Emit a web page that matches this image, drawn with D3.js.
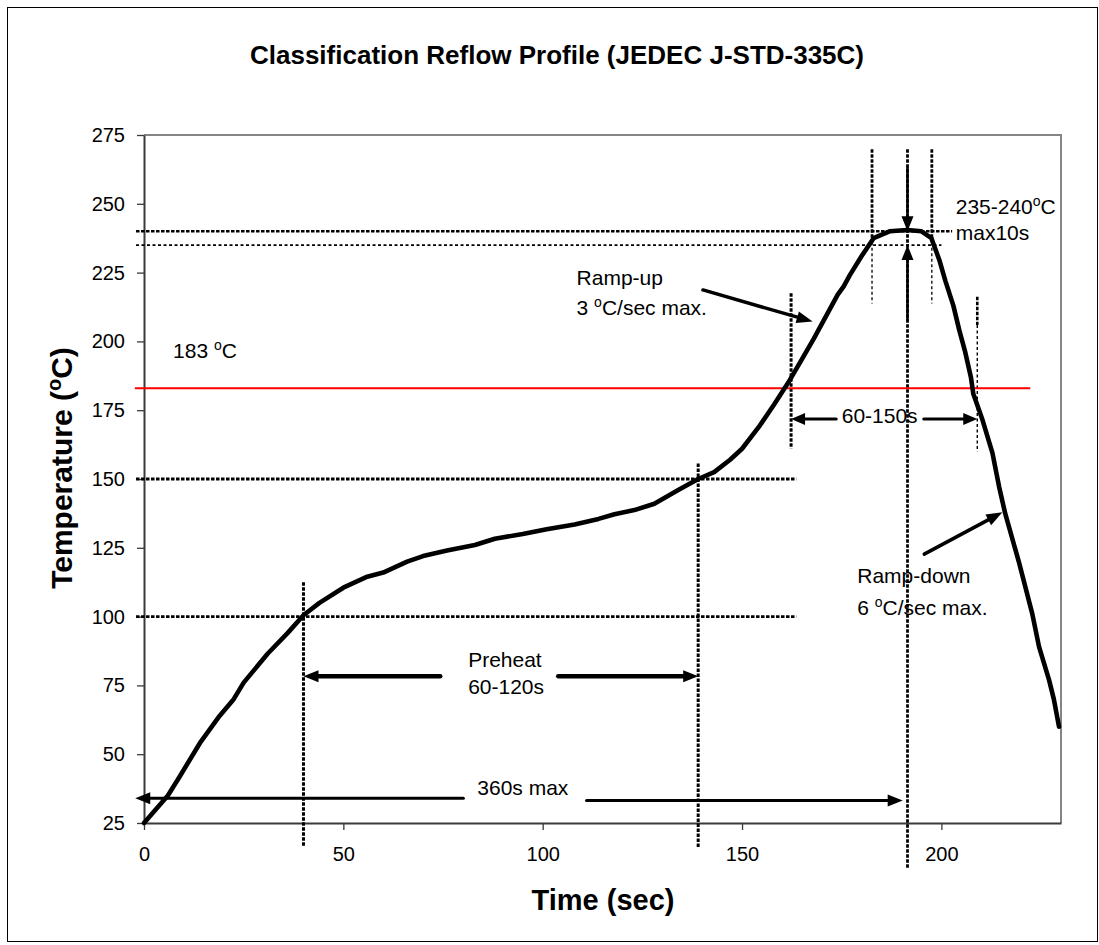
<!DOCTYPE html>
<html>
<head>
<meta charset="utf-8">
<script src="https://cdn.jsdelivr.net/npm/d3@7"></script>
<style>
  body { margin: 0; background: #fff; }
  svg { display: block; }
  text { font-family: "Liberation Sans", Arial, Helvetica, sans-serif; fill: #000; }
</style>
</head>
<body>
<svg id="chart" width="1099" height="945"></svg>
<script>
// Reflow profile: oven temperature (°C) against time (s)
const timeSec = [0, 3, 6, 9, 14, 19, 22.5, 25, 31, 36, 40, 44, 50, 56, 60, 63, 66, 70, 76, 83,
  88, 95, 101, 108, 114, 118, 123, 128, 134, 139, 143, 147, 150, 154.5, 158, 162, 165, 168, 171, 174,
  175.5, 177, 180, 183, 187, 191.5, 195, 197.5, 199.5, 201, 203, 204.5, 206, 207.4, 208, 210.3, 212.8,
  214.5, 216, 219.5, 222.8, 224.5, 227, 228.2, 229.5];
const tempC = [25, 30, 35, 42, 54, 64, 70, 76, 86.5, 94, 100.5, 105, 110.5, 114.5, 116, 118, 120, 122, 124, 126,
  128.3, 130, 131.7, 133.5, 135.5, 137.2, 138.7, 141, 146, 150, 152.5, 157, 161, 169.5, 177, 186, 193.5, 201, 209, 217,
  220, 224, 231, 237.5, 240, 240.5, 240, 237.5, 229.5, 222, 213, 204, 196, 187, 181, 171.5, 159.5,
  147, 137.5, 119.5, 101, 89, 77, 70, 60];

const xTicks = [0, 50, 100, 150, 200];
const yTicks = [25, 50, 75, 100, 125, 150, 175, 200, 225, 250, 275];
const xDomain = [0, 230];
const yDomain = [25, 275];

// Process limits
const liquidusC = 183;
const peakBandC = [240, 235];
const preheatBandC = [150, 100];
const preheatStartSec = 40;
const preheatEndSec = 139;
const aboveLiquidusSec = [162.3, 209];
const peakWindowSec = [182.6, 197.6];
const peakTimeSec = 191.5;

const svg = d3.select("#chart");

// outer chart frame
svg.append("rect").attr("x", 7.5).attr("y", 7.5).attr("width", 1090).attr("height", 934)
  .attr("fill", "#fff").attr("stroke", "#000").attr("stroke-width", 1);

const x = d3.scaleLinear().domain(xDomain).range([144, 1061]);
const y = d3.scaleLinear().domain(yDomain).range([823, 135]);

// plot area border (top / right)
svg.append("path")
  .attr("d", `M${x(xDomain[0])},${y(yDomain[1])}H${x(xDomain[1])}V${y(yDomain[0])}`)
  .attr("fill", "none").attr("stroke", "#858585").attr("stroke-width", 2);

// axes
const gx = svg.append("g").attr("transform", `translate(0,${y(yDomain[0])})`)
  .call(d3.axisBottom(x).tickValues(xTicks).tickSize(7).tickSizeOuter(0).tickPadding(17));
const gy = svg.append("g").attr("transform", `translate(${x(xDomain[0])},0)`)
  .call(d3.axisLeft(y).tickValues(yTicks).tickSize(7).tickSizeOuter(0).tickPadding(12));
[gx, gy].forEach(g => {
  g.select(".domain").attr("stroke", "#3a3a3a").attr("stroke-width", 2);
  g.selectAll(".tick line").attr("stroke", "#3a3a3a").attr("stroke-width", 1.3);
  g.selectAll(".tick text").attr("font-size", 20).attr("fill", "#000")
    .attr("font-family", '"Liberation Sans", Arial, sans-serif');
});

const ann = svg.append("g");

// guide lines
function hGuide(T, t0, t1, w, dash) {
  ann.append("line").attr("x1", x(t0)).attr("x2", x(t1)).attr("y1", y(T)).attr("y2", y(T))
    .attr("stroke", "#000").attr("stroke-width", w).attr("stroke-dasharray", dash);
}
function vGuide(t, T0, T1, w, dash) {
  ann.append("line").attr("x1", x(t)).attr("x2", x(t)).attr("y1", y(T0)).attr("y2", y(T1))
    .attr("stroke", "#000").attr("stroke-width", w).attr("stroke-dasharray", dash);
}
const thickDot = "3.5,1.5", thinDot = "3,2.5";

hGuide(peakBandC[0], -2, 202.7, 2.4, thickDot);
hGuide(peakBandC[1], -2, 200, 1.6, thinDot);
hGuide(preheatBandC[0], -2, 163.6, 2.8, thickDot);
hGuide(preheatBandC[1], -2, 163.6, 2.8, thickDot);

vGuide(preheatStartSec, 112.5, 16.2, 3, thickDot);
vGuide(preheatEndSec, 155.6, 16.2, 3, thickDot);
vGuide(aboveLiquidusSec[0], 217.5, 161.1, 3, thickDot);
vGuide(aboveLiquidusSec[1], 216.2, 206, 2.6, thickDot);
vGuide(aboveLiquidusSec[1], 206, 159.9, 1.4, thinDot);
peakWindowSec.forEach(t => {
  vGuide(t, 269.8, 236, 2.8, thickDot);
  vGuide(t, 236, 213.8, 1.3, thinDot);
});
vGuide(peakTimeSec, 269.8, 8.5, 2.8, thickDot);

// liquidus line
ann.append("line").attr("x1", x(-2.3)).attr("x2", x(222.3))
  .attr("y1", y(liquidusC)).attr("y2", y(liquidusC))
  .attr("stroke", "#ff0000").attr("stroke-width", 2);

// profile curve
const pts = timeSec.map((t, i) => [t, tempC[i]]);
svg.append("path").datum(pts)
  .attr("d", d3.line().x(d => x(d[0])).y(d => y(d[1])))
  .attr("fill", "none").attr("stroke", "#000").attr("stroke-width", 4.6)
  .attr("stroke-linejoin", "round").attr("stroke-linecap", "round");

// arrows with filled heads
function arrow(t0, T0, t1, T1, shaft, headL, headW) {
  const x0 = x(t0), y0 = y(T0), x1 = x(t1), y1 = y(T1);
  const dx = x1 - x0, dy = y1 - y0, len = Math.hypot(dx, dy);
  const ux = dx / len, uy = dy / len;
  const bx = x1 - ux * headL, by = y1 - uy * headL;
  ann.append("line").attr("x1", x0).attr("y1", y0).attr("x2", bx + ux).attr("y2", by + uy)
    .attr("stroke", "#000").attr("stroke-width", shaft).attr("stroke-linecap", "round");
  const px = -uy * headW / 2, py = ux * headW / 2;
  ann.append("path")
    .attr("d", `M${x1},${y1}L${bx + px},${by + py}L${bx - px},${by - py}Z`)
    .attr("fill", "#000");
}

// preheat
arrow(74.3, 78.3, preheatStartSec, 78.3, 4.5, 15, 12);
arrow(103.9, 78.3, preheatEndSec, 78.3, 4.5, 15, 12);
// total time
arrow(80.1, 34, -2.2, 34, 3, 15, 12);
arrow(111, 33.2, 190.3, 33.2, 3, 15, 12);
// time above liquidus
arrow(173.6, 171.8, aboveLiquidusSec[0], 171.8, 3.2, 14, 12);
arrow(195.6, 171.8, aboveLiquidusSec[1], 171.8, 3.2, 14, 12);
// ramp rates
arrow(140.2, 218.7, 167.7, 207.2, 3.5, 16, 12);
arrow(195.7, 122.7, 215.3, 137.9, 3.5, 16, 12);
// peak band
arrow(peakTimeSec, 263, peakTimeSec, peakBandC[0], 2.6, 15, 12);
arrow(peakTimeSec, 207.8, peakTimeSec, peakBandC[1], 2.6, 15, 12);

// labels: each part may be a raised degree "o"
function label(t, T, parts, size) {
  const el = ann.append("text").attr("x", x(t)).attr("y", y(T)).attr("font-size", size || 21);
  let raised = false;
  parts.forEach(p => {
    if (typeof p === "string") {
      el.append("tspan").attr("dy", raised ? 8 : 0).text(p);
      raised = false;
    } else {
      el.append("tspan").attr("dy", -8).attr("font-size", 14).text(p.sup);
      raised = true;
    }
  });
  return el;
}
label(7.3, 193.9, ["183 ", {sup: "o"}, "C"]);
label(108.5, 220.5, ["Ramp-up"]);
label(108.5, 209.6, ["3 ", {sup: "o"}, "C/sec max."]);
label(175.0, 170.3, ["60-150s"]);
label(203.6, 246.3, ["235-240", {sup: "o"}, "C"]);
label(203.6, 236.8, ["max10s"]);
label(178.9, 112.1, ["Ramp-down"]);
label(178.9, 100.5, ["6 ", {sup: "o"}, "C/sec max."]);
label(81.3, 81.6, ["Preheat"]);
label(81.3, 71.8, ["60-120s"]);
label(83.6, 35.1, ["360s max"]);

// title and axis titles
svg.append("text").attr("x", 557).attr("y", 64).attr("text-anchor", "middle")
  .attr("font-size", 26).attr("font-weight", "bold")
  .text("Classification Reflow Profile (JEDEC J-STD-335C)");

svg.append("text").attr("x", 603).attr("y", 910).attr("text-anchor", "middle")
  .attr("font-size", 29).attr("font-weight", "bold").text("Time (sec)");

const yt = svg.append("text").attr("transform", "translate(72,468) rotate(-90)")
  .attr("text-anchor", "middle").attr("font-size", 30).attr("font-weight", "bold");
yt.append("tspan").text("Temperature (");
yt.append("tspan").attr("dy", -11).attr("font-size", 20).text("o");
yt.append("tspan").attr("dy", 11).text("C)");
</script>
</body>
</html>
